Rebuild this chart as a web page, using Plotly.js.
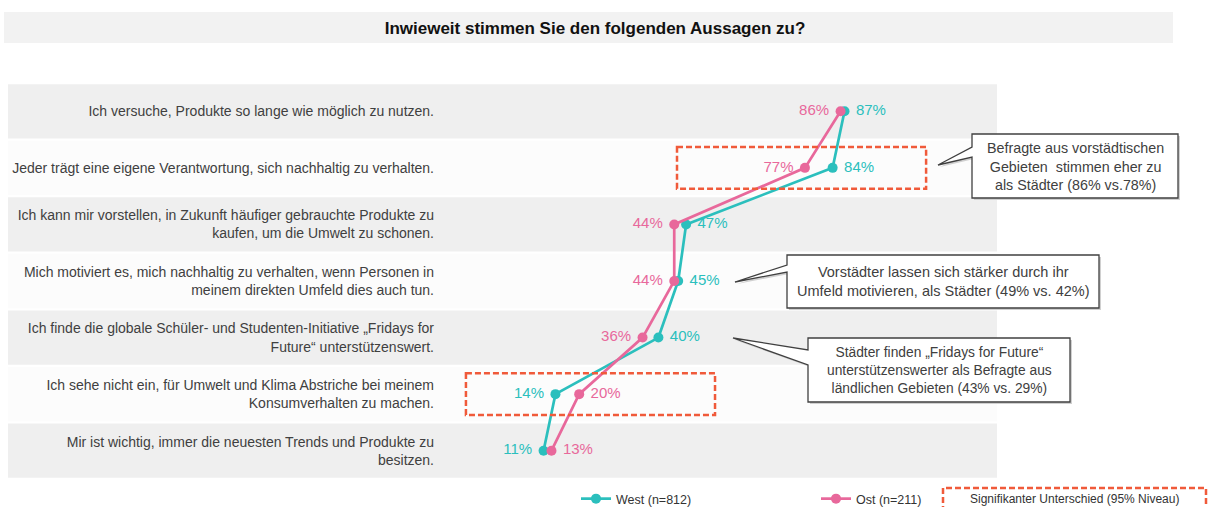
<!DOCTYPE html>
<html>
<head>
<meta charset="utf-8">
<script src="https://cdn.plot.ly/plotly-3.0.1.min.js"></script>
<style>html,body{margin:0;padding:0;background:#fff;}#chart{width:1214px;height:507px;}</style>
</head>
<body>
<div id="chart"></div>
<script>
// ---- data ----
const statements = [
  "Ich versuche, Produkte so lange wie möglich zu nutzen.",
  "Jeder trägt eine eigene Verantwortung, sich nachhaltig zu verhalten.",
  "Ich kann mir vorstellen, in Zukunft häufiger gebrauchte Produkte zu<br>kaufen, um die Umwelt zu schonen.",
  "Mich motiviert es, mich nachhaltig zu verhalten, wenn Personen in<br>meinem direkten Umfeld dies auch tun.",
  "Ich finde die globale Schüler- und Studenten-Initiative „Fridays for<br>Future“ unterstützenswert.",
  "Ich sehe nicht ein, für Umwelt und Klima Abstriche bei meinem<br>Konsumverhalten zu machen.",
  "Mir ist wichtig, immer die neuesten Trends und Produkte zu<br>besitzen."
];
const westValues = [87, 84, 47, 45, 40, 14, 11];
const ostValues  = [86, 77, 44, 44, 36, 20, 13];
const westName = "West (n=812)";
const ostName  = "Ost (n=211)";
const titleText = "Inwieweit stimmen Sie den folgenden Aussagen zu?";
const sigLabel = "Signifikanter Unterschied (95% Niveau)";
const callouts = [
  "Befragte aus vorstädtischen<br>Gebieten\u00a0 stimmen eher zu<br>als Städter (86% vs.78%)",
  "Vorstädter lassen sich stärker durch ihr<br>Umfeld motivieren, als Städter (49% vs. 42%)",
  "Städter finden „Fridays for Future“<br>unterstützenswerter als Befragte aus<br>ländlichen Gebieten (43% vs. 29%)"
];
const sigRows = [1, 5];

// ---- layout helpers (pixel -> paper) ----
const W = 1214, H = 507;
const mL = 440, mR = 0, mT = 83, mB = 28;
const pw = W - mL - mR, ph = H - mT - mB;
const px = x => (x - mL) / pw;
const py = y => (H - mB - y) / ph;

const teal = "#2bbfbd";
const pink = "#e8689b";
const red = "#f05a3a";
const font = "Liberation Sans, Arial, sans-serif";

const NB = "\u00a0";
const westPos = westValues.map((w, i) => w >= ostValues[i] ? "middle right" : "middle left");
const ostPos  = ostValues.map((o, i) => o > westValues[i] ? "middle right" : "middle left");
const labelText = (vals, pos) => vals.map((v, i) => pos[i] === "middle right" ? NB + v + "%" : v + "%" + NB);

const traces = [
  {
    type: "scatter", mode: "lines+markers+text", name: westName,
    x: westValues, y: statements, text: labelText(westValues, westPos), textposition: westPos,
    textfont: {color: teal, size: 15, family: font},
    line: {color: teal, width: 2.7}, marker: {color: teal, size: 10},
    legend: "legend", cliponaxis: false, hoverinfo: "x+name"
  },
  {
    type: "scatter", mode: "lines+markers+text", name: ostName,
    x: ostValues, y: statements, text: labelText(ostValues, ostPos), textposition: ostPos,
    textfont: {color: pink, size: 15, family: font},
    line: {color: pink, width: 2.7}, marker: {color: pink, size: 10},
    legend: "legend2", cliponaxis: false, hoverinfo: "x+name"
  }
];

const shapes = [];
// title band
shapes.push({type: "rect", xref: "paper", yref: "paper", x0: px(4), x1: px(1173), y0: py(43), y1: py(12),
  fillcolor: "#f2f2f2", line: {width: 0}, layer: "below"});
// row bands
statements.forEach((s, i) => {
  shapes.push({type: "rect", xref: "paper", yref: "y", x0: px(8), x1: px(997), y0: i - 0.5 + 0.02, y1: i + 0.5 - 0.02,
    fillcolor: i % 2 === 0 ? "#efefef" : "#fcfcfc", line: {width: 0}, layer: "below"});
});
// significance boxes (data-referenced)
const sigBoxes = [
  {x0: 44.7, x1: 107.6},
  {x0: -8.6, x1: 54.3}
];
sigRows.forEach((r, k) => {
  shapes.push({type: "rect", xref: "x", yref: "y", x0: sigBoxes[k].x0, x1: sigBoxes[k].x1, y0: r - 0.37, y1: r + 0.37,
    line: {color: red, width: 2.5, dash: "6px,3px"}, fillcolor: "rgba(0,0,0,0)", layer: "above"});
});
// legend significance box
shapes.push({type: "rect", xref: "paper", yref: "paper", x0: px(943), x1: px(1206), y0: py(520), y1: py(488),
  line: {color: red, width: 2.5, dash: "6px,3px"}, fillcolor: "rgba(0,0,0,0)"});

// callout shapes
function calloutPath(b, tip, b1, b2) {
  const X = v => px(v), Y = v => py(v);
  return `M ${X(b.l)} ${Y(b.t)} L ${X(b.r)} ${Y(b.t)} L ${X(b.r)} ${Y(b.b)} L ${X(b.l)} ${Y(b.b)} ` +
         `L ${X(b.l)} ${Y(b2)} L ${X(tip[0])} ${Y(tip[1])} L ${X(b.l)} ${Y(b1)} Z`;
}
const calloutGeom = [
  {b: {l: 972, r: 1178, t: 134, b: 198}, tip: [938, 165], b1: 147, b2: 157, size: 14.3},
  {b: {l: 787, r: 1099, t: 255, b: 308}, tip: [735, 282], b1: 265, b2: 272, size: 14.5},
  {b: {l: 808, r: 1070, t: 338, b: 402}, tip: [733, 338], b1: 350, b2: 365, size: 13.8}
];
calloutGeom.forEach(g => {
  const sh = {l: g.b.l + 2, r: g.b.r + 2, t: g.b.t + 2, b: g.b.b + 2};
  shapes.push({type: "path", xref: "paper", yref: "paper", path: calloutPath(sh, [g.tip[0] + 2, g.tip[1] + 2], g.b1 + 2, g.b2 + 2),
    fillcolor: "#d0d0d0", line: {width: 0}});
  shapes.push({type: "path", xref: "paper", yref: "paper", path: calloutPath(g.b, g.tip, g.b1, g.b2),
    fillcolor: "#ffffff", line: {color: "#404040", width: 1.3}});
});

const annotations = calloutGeom.map((g, i) => ({
  xref: "paper", yref: "paper", x: px((g.b.l + g.b.r) / 2), y: py((g.b.t + g.b.b) / 2),
  xanchor: "center", yanchor: "middle", showarrow: false, text: callouts[i], align: "center",
  font: {family: font, size: g.size, color: "#404040"}
}));
annotations.push({xref: "paper", yref: "paper", x: px(1074), y: py(499), xanchor: "center", yanchor: "middle",
  showarrow: false, text: sigLabel, font: {family: font, size: 12, color: "#333"}});

const layout = {
  width: W, height: H,
  margin: {l: mL, r: mR, t: mT, b: mB, autoexpand: false},
  paper_bgcolor: "#ffffff", plot_bgcolor: "rgba(0,0,0,0)",
  title: {text: "<b>" + titleText + "</b>", x: 595 / W, xanchor: "center", y: 1 - 28 / H, yanchor: "middle",
    xref: "container", yref: "container", font: {family: font, size: 17, color: "#111"}},
  xaxis: {range: [(mL - 500) / 3.96, (W - mR - 500) / 3.96], visible: false, fixedrange: true},
  yaxis: {type: "category", autorange: false, range: [6.5, -0.5], showgrid: false, zeroline: false, showline: false,
    ticks: "", ticklabelstandoff: 5, tickfont: {family: font, size: 14, color: "#404040"}, fixedrange: true},
  showlegend: true,
  legend: {orientation: "h", x: px(576), y: py(499), xanchor: "left", yanchor: "middle", bgcolor: "rgba(0,0,0,0)",
    font: {family: font, size: 12.5, color: "#333"}},
  legend2: {orientation: "h", x: px(816), y: py(499), xanchor: "left", yanchor: "middle", bgcolor: "rgba(0,0,0,0)",
    font: {family: font, size: 12.5, color: "#333"}},
  shapes: shapes,
  annotations: annotations,
  font: {family: font}
};

Plotly.newPlot("chart", traces, layout, {displayModeBar: false, staticPlot: true});
</script>
</body>
</html>
